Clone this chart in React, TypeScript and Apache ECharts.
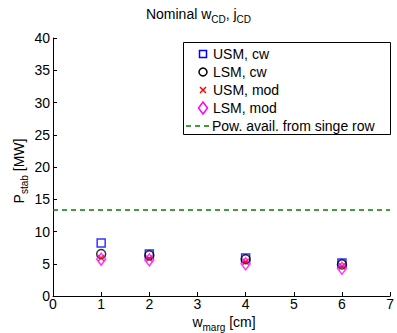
import React, { useEffect, useRef } from "react";
import * as echarts from "echarts";

const xs = [1, 2, 4, 6];
const usmCw = [8.2, 6.5, 5.9, 5.1];
const lsmCw = [6.5, 6.3, 5.7, 4.9];
const usmMod = [5.9, 5.8, 5.3, 4.6];
const lsmMod = [5.7, 5.6, 5.0, 4.3];
const powAvail = 13.33;
const seriesNames = ["USM, cw", "LSM, cw", "USM, mod", "LSM, mod", "Pow. avail. from singe row"];

const FONT = "Liberation Sans, Arial, Helvetica, sans-serif";

export default function App() {
  const ref = useRef<HTMLDivElement>(null);
  useEffect(() => {
    const chart = echarts.init(ref.current!, null, { renderer: "svg" });
    const pts = (ys: number[]) => xs.map((x, i) => [x, ys[i]]);
    const rich = {
      n: { fontSize: 14, fontFamily: FONT, color: "#000" },
      s: { fontSize: 10, fontFamily: FONT, color: "#000", padding: [11, 0, 0, 0] },
    };
    const lx = 203;
    const rowY = [54, 72, 90, 108, 126];
    const legendText = seriesNames.map((name, i) => ({
      type: "text",
      x: i === 4 ? 212 : 213,
      y: rowY[i],
      style: { text: name, fontSize: 14, fontFamily: FONT, fill: "#000", verticalAlign: "middle" },
    }));
    chart.setOption({
      animation: false,
      backgroundColor: "#fff",
      grid: { left: 53, right: 4, top: 38, bottom: 37 },
      xAxis: {
        type: "value",
        min: 0,
        max: 7,
        interval: 1,
        axisLine: { lineStyle: { color: "#000", width: 1 } },
        axisTick: { inside: true, length: 4, lineStyle: { color: "#000" } },
        axisLabel: { color: "#000", fontSize: 14, fontFamily: FONT, margin: 1 },
        splitLine: { show: false },
      },
      yAxis: {
        type: "value",
        min: 0,
        max: 40,
        interval: 5,
        axisLine: { show: true, lineStyle: { color: "#000", width: 1 } },
        axisTick: { show: true, inside: true, length: 4, lineStyle: { color: "#000" } },
        axisLabel: { color: "#000", fontSize: 14, fontFamily: FONT, margin: 3 },
        splitLine: { show: false },
      },
      graphic: [
        {
          type: "text",
          left: "center",
          top: 7,
          style: { rich, text: "{n|Nominal w}{s|CD}{n|, j}{s|CD}" },
        },
        {
          type: "text",
          x: 224,
          y: 322,
          style: { rich, text: "{n|w}{s|marg}{n| [cm]}", align: "center", verticalAlign: "middle" },
        },
        {
          type: "text",
          x: 19,
          y: 171,
          rotation: Math.PI / 2,
          style: { rich, text: "{n|P}{s|stab}{n| [MW]}", align: "center", verticalAlign: "middle" },
        },
        {
          type: "rect",
          shape: { x: 183.5, y: 42.5, width: 207, height: 92 },
          style: { fill: "#fff", stroke: "#000", lineWidth: 1 },
          z: 10,
        },
        {
          type: "rect",
          shape: { x: lx - 3.5, y: rowY[0] - 3.5, width: 7, height: 7 },
          style: { fill: "none", stroke: "#0000ff", lineWidth: 1.5 },
          z: 11,
        },
        {
          type: "circle",
          shape: { cx: lx, cy: rowY[1], r: 4 },
          style: { fill: "none", stroke: "#000", lineWidth: 1.5 },
          z: 11,
        },
        {
          type: "polyline",
          shape: { points: [[lx - 3, rowY[2] - 3], [lx + 3, rowY[2] + 3]] },
          style: { stroke: "#ff0000", lineWidth: 1.5 },
          z: 11,
        },
        {
          type: "polyline",
          shape: { points: [[lx - 3, rowY[2] + 3], [lx + 3, rowY[2] - 3]] },
          style: { stroke: "#ff0000", lineWidth: 1.5 },
          z: 11,
        },
        {
          type: "polygon",
          shape: { points: [[lx, rowY[3] - 6], [lx + 4.5, rowY[3]], [lx, rowY[3] + 6], [lx - 4.5, rowY[3]]] },
          style: { fill: "none", stroke: "#ff00ff", lineWidth: 1.5 },
          z: 11,
        },
        {
          type: "line",
          shape: { x1: 186, y1: rowY[4], x2: 212, y2: rowY[4] },
          style: { stroke: "#008000", lineWidth: 1.3, lineDash: [5, 4] },
          z: 11,
        },
        ...legendText.map((t) => ({ ...t, z: 11 })),
      ],
      series: [
        {
          name: seriesNames[0],
          type: "scatter",
          symbol: "rect",
          symbolSize: 8,
          data: pts(usmCw),
          itemStyle: { color: "rgba(0,0,0,0)", borderColor: "#0000ff", borderWidth: 1.5 },
          z: 2,
        },
        {
          name: seriesNames[1],
          type: "scatter",
          symbol: "circle",
          symbolSize: 9,
          data: pts(lsmCw),
          itemStyle: { color: "rgba(0,0,0,0)", borderColor: "#000", borderWidth: 1.5 },
          z: 3,
        },
        {
          name: seriesNames[2],
          type: "scatter",
          symbol: "path://M0,0L10,10M0,10L10,0",
          symbolSize: 6,
          data: pts(usmMod),
          itemStyle: { color: "rgba(0,0,0,0)", borderColor: "#ff0000", borderWidth: 1.5 },
          z: 4,
        },
        {
          name: seriesNames[3],
          type: "scatter",
          symbol: "diamond",
          symbolSize: [9, 12],
          data: pts(lsmMod),
          itemStyle: { color: "rgba(0,0,0,0)", borderColor: "#ff00ff", borderWidth: 1.5 },
          z: 5,
        },
        {
          name: seriesNames[4],
          type: "line",
          symbol: "none",
          data: [
            [0, powAvail],
            [7, powAvail],
          ],
          lineStyle: { color: "#008000", type: [5, 4], width: 1.3 },
          itemStyle: { color: "#008000" },
          z: 1,
        },
      ],
    });
    return () => chart.dispose();
  }, []);
  return <div ref={ref} style={{ width: 397, height: 333, position: "absolute", left: 0, top: 0 }} />;
}
